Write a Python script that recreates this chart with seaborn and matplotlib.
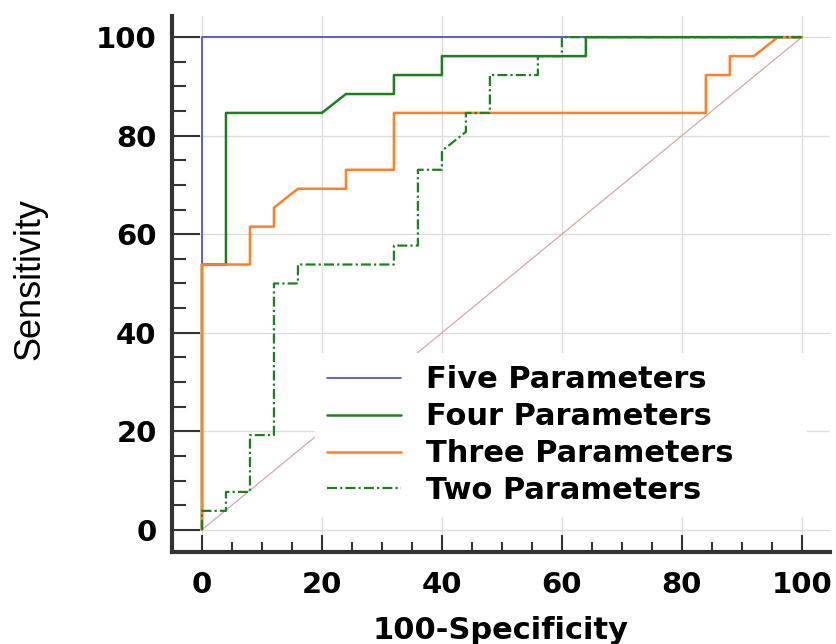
#Import libraries
import matplotlib
matplotlib.use('Agg')
import pandas as pd
import seaborn as sns
import matplotlib.pyplot as plt
from matplotlib.ticker import AutoMinorLocator

#ROC curve points (100-Specificity, Sensitivity)
five_x = [0, 0, 100]
five_y = [0, 100, 100]

four_x = [0, 0, 4, 4, 20, 24, 32, 32, 40, 40, 64, 64, 100]
four_y = [0, 53.85, 53.85, 84.62, 84.62, 88.46, 88.46, 92.31, 92.31, 96.15, 96.15, 100, 100]

three_x = [0, 0, 8, 8, 12, 12, 16, 24, 24, 32, 32, 84, 84, 88, 88, 92, 96, 100]
three_y = [0, 53.85, 53.85, 61.54, 61.54, 65.38, 69.23, 69.23, 73.08, 73.08, 84.62,
           84.62, 92.31, 92.31, 96.15, 96.15, 100, 100]

two_x = [0, 0, 4, 4, 8, 8, 12, 12, 16, 16, 32, 32, 36, 36, 40, 40, 44, 44, 48, 48,
         56, 56, 60, 60, 100]
two_y = [0, 3.85, 3.85, 7.69, 7.69, 19.23, 19.23, 50, 50, 53.85, 53.85, 57.69, 57.69,
         73.08, 73.08, 76.92, 80.77, 84.62, 84.62, 92.31, 92.31, 96.15, 96.15, 100, 100]

diag_x = [0, 100]
diag_y = [0, 100]

tick_vals = [0, 20, 40, 60, 80, 100]
tick_labels = ['0', '20', '40', '60', '80', '100']

series_names = ['Five Parameters', 'Four Parameters', 'Three Parameters', 'Two Parameters']

#Style
sns.set_style('whitegrid')
plt.rcParams['font.family'] = ['DejaVu Sans']
plt.rcParams['text.color'] = 'black'
plt.rcParams['axes.labelcolor'] = 'black'
plt.rcParams['xtick.labelcolor'] = 'black'
plt.rcParams['ytick.labelcolor'] = 'black'

fig = plt.figure(figsize=(8.36, 6.44), dpi=100)
ax = fig.add_axes([0.2057, 0.1429, 0.7871, 0.8323])

#Reference diagonal
sns.lineplot(x=diag_x, y=diag_y, sort=False, estimator=None, color='#d6a6a6',
             linewidth=0.9, ax=ax)

#ROC curves
sns.lineplot(x=five_x, y=five_y, sort=False, estimator=None, color='#5656c4',
             linewidth=1.3, label=series_names[0], ax=ax)
sns.lineplot(x=four_x, y=four_y, sort=False, estimator=None, color='#1f7f1f',
             linewidth=1.8, label=series_names[1], ax=ax)
sns.lineplot(x=three_x, y=three_y, sort=False, estimator=None, color='#ff7f2a',
             linewidth=1.8, label=series_names[2], ax=ax)
sns.lineplot(x=two_x, y=two_y, sort=False, estimator=None, color='#1f7f1f',
             linewidth=1.6, linestyle=(0, (4.5, 1.4, 1.0, 1.4)),
             label=series_names[3], ax=ax)

#Axes limits and ticks
ax.set_xlim(-5, 104.7)
ax.set_ylim(-4.5, 104.3)
ax.set_xticks(tick_vals)
ax.set_yticks(tick_vals)
ax.set_xticklabels(tick_labels, fontweight='bold', fontsize=21)
ax.set_yticklabels(tick_labels, fontweight='bold', fontsize=21)
ax.xaxis.set_minor_locator(AutoMinorLocator(4))
ax.yaxis.set_minor_locator(AutoMinorLocator(4))

ax.tick_params(axis='x', which='major', direction='in', length=12, width=1.5,
               color='#333333', pad=14, bottom=True)
ax.tick_params(axis='x', which='minor', direction='in', length=7, width=1.5,
               color='#333333', bottom=True)
ax.tick_params(axis='y', which='major', direction='in', length=20, width=1.5,
               color='#333333', pad=11, left=True)
ax.tick_params(axis='y', which='minor', direction='in', length=10, width=1.5,
               color='#333333', left=True)

#Grid and spines
ax.grid(True, which='major', color='#dcdcdc', linewidth=1.0)
ax.grid(False, which='minor')
for side in ['top', 'right']:
    ax.spines[side].set_visible(False)
for side in ['left', 'bottom']:
    ax.spines[side].set_color('#333333')
    ax.spines[side].set_linewidth(3)

#Axis labels
ax.set_xlabel('100-Specificity', fontsize=22, fontweight='bold')
ax.xaxis.set_label_coords(0.5, -0.12)
ax.set_ylabel('Sensitivity', fontsize=26, family='Liberation Sans')
ax.yaxis.set_label_coords(-0.19, 0.51)

#Legend (white box without frame, hides grid and diagonal behind it)
leg = ax.legend(loc='upper left', bbox_to_anchor=(0.2173, 0.063, 0.748, 0.308),
                mode='expand', frameon=True, fancybox=False, framealpha=1,
                facecolor='white', edgecolor='none',
                prop={'weight': 'bold', 'size': 22}, borderpad=0.4,
                labelspacing=0.26, handlelength=2.4, handletextpad=0.85,
                borderaxespad=0)

fig.savefig('out.png', dpi=100)
